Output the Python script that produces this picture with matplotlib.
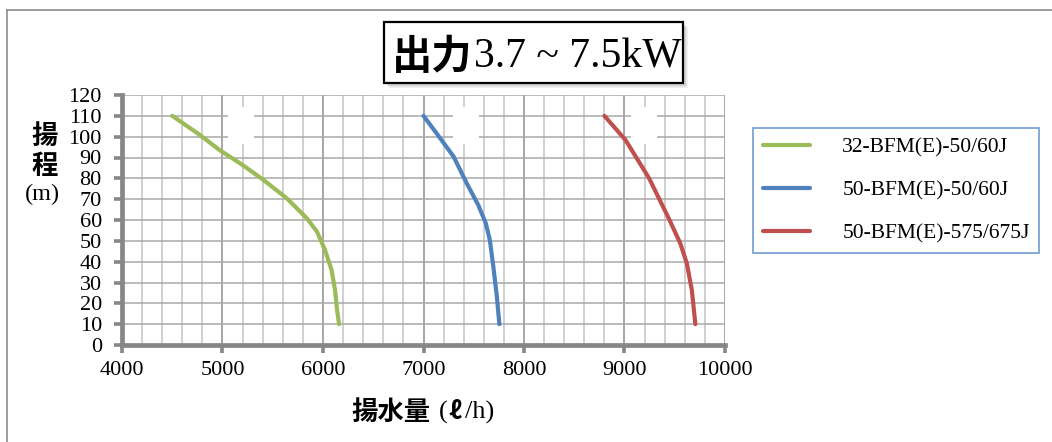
import matplotlib
matplotlib.use("Agg")
import matplotlib.pyplot as plt
from matplotlib.lines import Line2D
from matplotlib.patches import Rectangle
from matplotlib.ticker import MultipleLocator

# 揚水量 (l/h) vs 揚程 (m)
green_q = [4500, 4770, 4970, 5200, 5400, 5640, 5840, 5940, 6020, 6085, 6120, 6140, 6160]
green_h = [110, 101, 93.6, 86.4, 79.5, 70.4, 60.8, 54.4, 45.6, 36, 26.4, 16.8, 10]
blue_q = [7000, 7130, 7300, 7430, 7545, 7620, 7660, 7695, 7730, 7755]
blue_h = [110, 101.6, 90.4, 77.6, 67.2, 58.4, 50.4, 37.6, 23.2, 10]
red_q = [8800, 9010, 9245, 9440, 9555, 9620, 9670, 9705]
red_h = [110, 98.4, 80, 60.8, 48.8, 39.2, 26.4, 10]

series_names = ["32-BFM(E)-50/60J", "50-BFM(E)-50/60J", "50-BFM(E)-575/675J"]
series_colors = ["#9bbb59", "#4f81bd", "#c0504d"]

x_ticks = [4000, 5000, 6000, 7000, 8000, 9000, 10000]
y_ticks = list(range(0, 121, 10))

# leftover blank label spots in the original chart
blank_spots = [(5180, 105), (7420, 105), (9190, 105)]

SERIF = ["Liberation Serif", "DejaVu Serif"]
CJK = ["Noto Sans CJK JP", "DejaVu Sans"]
W, H = 1052, 442

fig = plt.figure(figsize=(W / 100, H / 100), dpi=100)
ax = fig.add_axes([122 / W, 1 - 345 / H, (725 - 122) / W, (345 - 95) / H])

ax.set_xlim(4000, 10000)
ax.set_ylim(0, 120)
ax.set_xticks(x_ticks)
ax.set_yticks(y_ticks)
ax.xaxis.set_minor_locator(MultipleLocator(200))

ax.grid(which="minor", axis="x", color="#c4c4c4", lw=1.1, zorder=0)
ax.grid(which="major", axis="x", color="#8e8e8e", lw=1.1, zorder=0)
ax.grid(which="major", axis="y", color="#a8a8a8", lw=1.1, zorder=0)
ax.set_axisbelow(True)

for side in ["top", "right"]:
    ax.spines[side].set_visible(False)
for side in ["left", "bottom"]:
    ax.spines[side].set_color("#878787")
    ax.spines[side].set_linewidth(3.4)

ax.tick_params(which="major", direction="out", length=5.5, width=2.6,
               color="#878787", labelsize=16)
ax.tick_params(axis="x", pad=6)
ax.tick_params(axis="y", pad=9)
ax.tick_params(which="minor", length=0)
for lab in ax.get_xticklabels() + ax.get_yticklabels():
    lab.set_fontfamily(SERIF)

for cx, cy in blank_spots:
    ax.add_patch(Rectangle((cx - 130, cy - 6), 260, 12, facecolor="white",
                           edgecolor="none", zorder=1))
    ax.add_patch(Rectangle((cx - 55, cy - 8.5), 110, 17.5, facecolor="white",
                           edgecolor="none", zorder=1))

curves = [(green_q, green_h), (blue_q, blue_h), (red_q, red_h)]
for (q, h), name, col in zip(curves, series_names, series_colors):
    ax.plot(q, h, color=col, lw=3.0, label=name, solid_capstyle="round",
            solid_joinstyle="round", zorder=3)

leg = fig.legend(loc="upper left", bbox_to_anchor=(753 / W, 1 - 128 / H),
                 borderaxespad=0, frameon=True, fancybox=False,
                 prop={"family": SERIF, "size": 15.5},
                 handlelength=2.2, handletextpad=1.5, labelspacing=1.05,
                 borderpad=0.45)
leg.get_frame().set_edgecolor("#5b8bc9")
leg.get_frame().set_linewidth(1.3)
for ln in leg.get_lines():
    ln.set_linewidth(3.0)
    ln.set_solid_capstyle("round")

# title box with a soft shadow
for k, a in [(5, 0.10), (4, 0.12), (3, 0.15)]:
    fig.patches.append(Rectangle(((384 + k) / W, 1 - (83 + k) / H), 299 / W, 61 / H,
                                 transform=fig.transFigure, facecolor="#808080",
                                 edgecolor="none", alpha=a, zorder=1))
fig.patches.append(Rectangle((384 / W, 1 - 83 / H), 299 / W, 61 / H,
                             transform=fig.transFigure, facecolor="white",
                             edgecolor="black", lw=1.6, zorder=2))
fig.text(392 / W, 1 - 69 / H, "出力", family=CJK, weight="bold", size=29,
         va="baseline", ha="left", zorder=3)
fig.text(474 / W, 1 - 68 / H, "3.7 ~ 7.5kW", family=SERIF, size=30,
         va="baseline", ha="left", zorder=3)

# axis titles
fig.text(45 / W, 1 - 136 / H, "揚", family=CJK, weight="bold", size=19,
         ha="center", va="center")
fig.text(45 / W, 1 - 166 / H, "程", family=CJK, weight="bold", size=19,
         ha="center", va="center")
fig.text(42 / W, 1 - 194 / H, "(m)", family=SERIF, size=17.5,
         ha="center", va="center")
fig.text(351 / W, 1 - 412 / H, "揚水量", family=CJK, weight="bold", size=19,
         ha="left", va="center")
fig.text(439 / W, 1 - 419 / H, "(", family=SERIF, size=19,
         ha="left", va="baseline")
fig.text(449 / W, 1 - 419 / H, "ℓ", family=CJK, weight="bold", size=18,
         ha="left", va="baseline")
fig.text(465 / W, 1 - 419 / H, "/h)", family=SERIF, size=19,
         ha="left", va="baseline")

# outer chart border (left and top only)
fig.add_artist(Line2D([7 / W, 7 / W], [0, 1 - 10 / H], transform=fig.transFigure,
                      color="#8c8c8c", lw=1.2))
fig.add_artist(Line2D([7 / W, 1], [1 - 10 / H, 1 - 10 / H], transform=fig.transFigure,
                      color="#8c8c8c", lw=1.2))

fig.savefig("out.png", dpi=100)
